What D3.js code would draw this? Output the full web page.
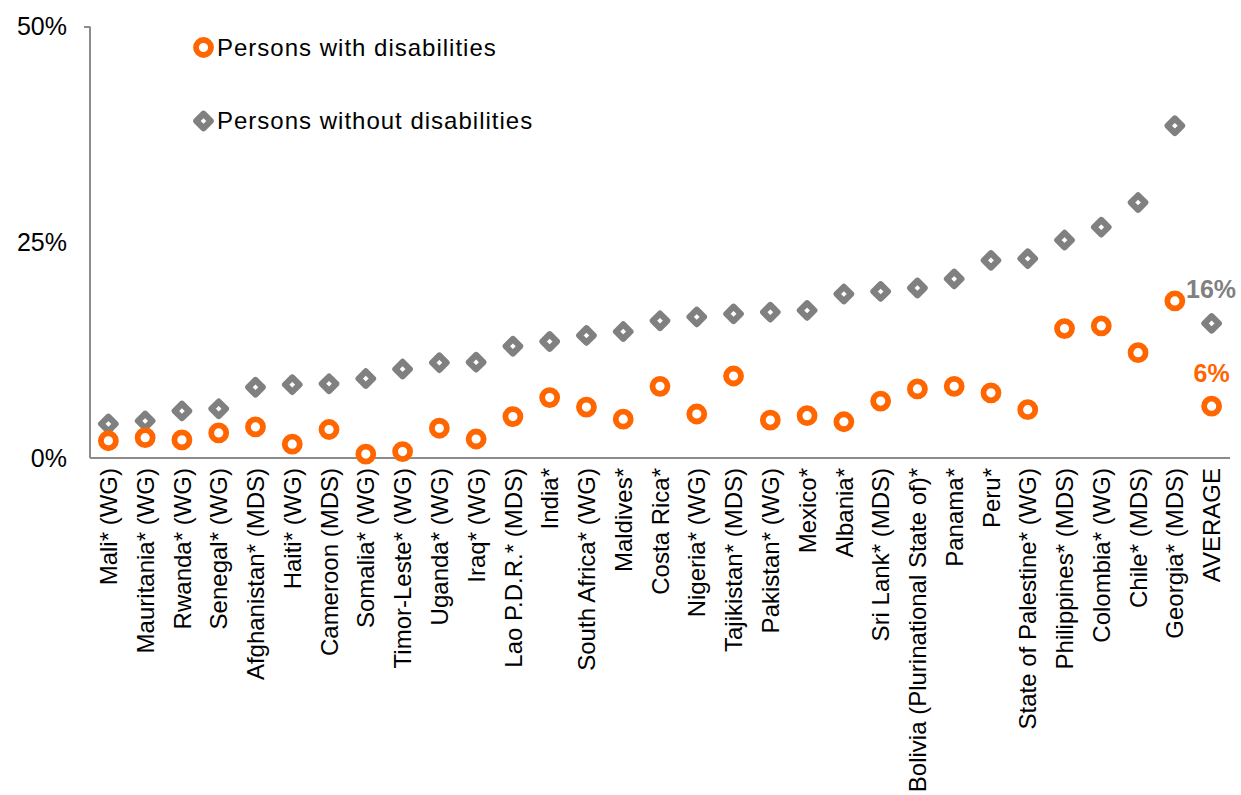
<!DOCTYPE html>
<html>
<head>
<meta charset="utf-8">
<script src="https://cdn.jsdelivr.net/npm/d3@7"></script>
<style>
  html, body { margin: 0; padding: 0; background: #fff; }
  svg { display: block; font-family: "Liberation Sans", Arial, Helvetica, sans-serif; }
</style>
</head>
<body>
<svg id="chart" width="1241" height="795"></svg>
<script>
const categories = [
  "Mali* (WG)", "Mauritania* (WG)", "Rwanda* (WG)", "Senegal* (WG)", "Afghanistan* (MDS)",
  "Haiti* (WG)", "Cameroon (MDS)", "Somalia* (WG)", "Timor-Leste* (WG)", "Uganda* (WG)",
  "Iraq* (WG)", "Lao P.D.R.* (MDS)", "India*", "South Africa* (WG)", "Maldives*",
  "Costa Rica*", "Nigeria* (WG)", "Tajikistan* (MDS)", "Pakistan* (WG)", "Mexico*",
  "Albania*", "Sri Lank* (MDS)", "Bolivia (Plurinational State of)*", "Panama*", "Peru*",
  "State of Palestine* (WG)", "Philippines* (MDS)", "Colombia* (WG)", "Chile* (MDS)", "Georgia* (MDS)",
  "AVERAGE"
];
const withDisabilities = [
  2.0, 2.35, 2.1, 2.9, 3.6,
  1.6, 3.3, 0.45, 0.75, 3.45,
  2.2, 4.8, 7.0, 5.9, 4.5,
  8.3, 5.1, 9.5, 4.4, 4.9,
  4.2, 6.6, 8.0, 8.3, 7.55,
  5.6, 15.0, 15.3, 12.2, 18.2,
  6.0
];
const withoutDisabilities = [
  3.95, 4.3, 5.45, 5.7, 8.2,
  8.5, 8.6, 9.2, 10.3, 11.05,
  11.1, 12.95, 13.5, 14.2, 14.65,
  15.9, 16.35, 16.7, 16.9, 17.1,
  19.0, 19.3, 19.7, 20.75, 22.9,
  23.1, 25.25, 26.75, 29.6, 38.5,
  15.6
];
const yTicks = [0, 25, 50];
const seriesNames = ["Persons with disabilities", "Persons without disabilities"];
const averageLabels = ["6%", "16%"];

const ORANGE = "#FF6600";
const GRAY = "#808080";
const AXIS = "#8c8c8c";

const svg = d3.select("#chart");
const x = d3.scaleBand().domain(categories).range([90, 1230]).paddingInner(0).paddingOuter(0);
const y = d3.scaleLinear().domain([0, 50]).range([458, 26.5]);

// Y axis
const yAxis = svg.append("g").attr("transform", "translate(90,0)")
  .call(d3.axisLeft(y).tickValues([50]).tickSize(6).tickFormat(""));
yAxis.select(".domain").remove();
yAxis.selectAll(".tick line").attr("stroke", AXIS).attr("stroke-width", 2);
svg.append("line").attr("x1", 90).attr("x2", 90).attr("y1", y(50)).attr("y2", y(0))
  .attr("stroke", AXIS).attr("stroke-width", 2);

svg.append("g").selectAll("text").data(yTicks).join("text")
  .attr("x", 67).attr("y", d => y(d)).attr("dy", "0.35em")
  .attr("text-anchor", "end").attr("font-size", 25).attr("fill", "#000")
  .text(d => d + "%");

// X axis
const xAxis = svg.append("g").attr("transform", `translate(0,${y(0)})`)
  .call(d3.axisBottom(x).tickSize(0).tickPadding(0));
xAxis.select(".domain").attr("stroke", AXIS).attr("stroke-width", 2)
  .attr("d", "M90,0H1230");
xAxis.selectAll(".tick text")
  .attr("font-size", 24).attr("fill", "#000")
  .attr("font-family", "'Liberation Sans', Arial, sans-serif")
  .attr("text-anchor", "end")
  .attr("transform", "rotate(-90)")
  .attr("x", -10).attr("y", 0).attr("dy", "0.36em");

const cx = (d, i) => x(categories[i]) + x.bandwidth() / 2;
const diamond = h => `M0,${-h}L${h},0L0,${h}L${-h},0Z`;

// Without disabilities (gray diamonds)
svg.append("g").selectAll("path").data(withoutDisabilities).join("path")
  .attr("d", diamond(7.2))
  .attr("transform", (d, i) => `translate(${cx(d, i)},${y(d)})`)
  .attr("fill", "#fff").attr("stroke", GRAY).attr("stroke-width", 6.2)
  .attr("stroke-linejoin", "round");

// With disabilities (orange circles)
svg.append("g").selectAll("circle").data(withDisabilities).join("circle")
  .attr("cx", cx).attr("cy", d => y(d)).attr("r", 7.5)
  .attr("fill", "#fff").attr("stroke", ORANGE).attr("stroke-width", 5.8);

// Average labels
const last = categories.length - 1;
svg.append("text").attr("x", cx(0, last)).attr("y", 373.5).attr("dy", "0.35em")
  .attr("text-anchor", "middle").attr("font-size", 25).attr("font-weight", "bold")
  .attr("fill", ORANGE).text(averageLabels[0]);
svg.append("text").attr("x", 1186).attr("y", 289.5).attr("dy", "0.35em")
  .attr("text-anchor", "start").attr("font-size", 25).attr("font-weight", "bold")
  .attr("fill", GRAY).text(averageLabels[1]);

// Legend
const legend = svg.append("g");
legend.append("circle").attr("cx", 203.5).attr("cy", 47.5).attr("r", 7.5)
  .attr("fill", "#fff").attr("stroke", ORANGE).attr("stroke-width", 5.8);
legend.append("path").attr("d", diamond(7.2)).attr("transform", "translate(203.5,121)")
  .attr("fill", "#fff").attr("stroke", GRAY).attr("stroke-width", 6.2).attr("stroke-linejoin", "round");
legend.selectAll("text.lg").data(seriesNames).join("text").attr("class", "lg")
  .attr("x", 217).attr("y", (d, i) => i === 0 ? 47.5 : 121).attr("dy", "0.35em")
  .attr("font-size", 24).attr("letter-spacing", 1.0).attr("fill", "#000")
  .text(d => d);
</script>
</body>
</html>
